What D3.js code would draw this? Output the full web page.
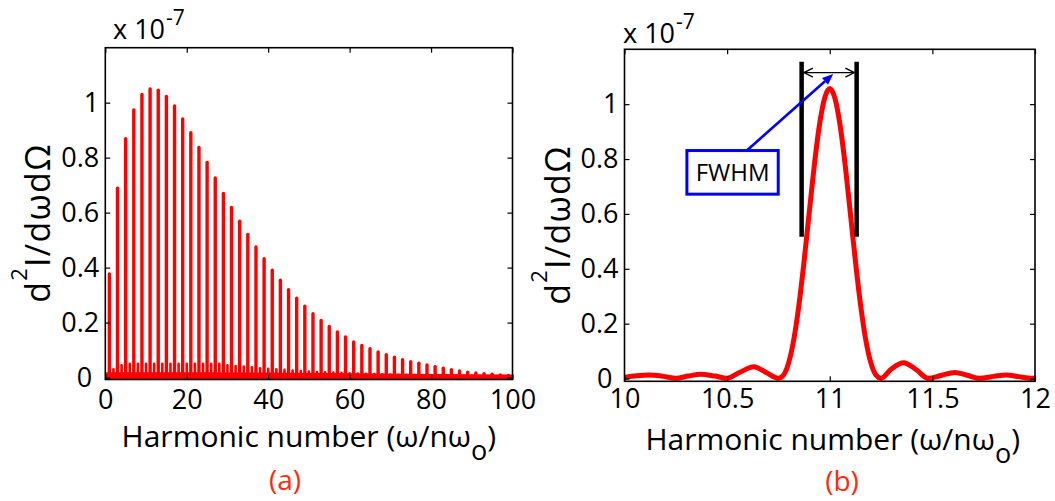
<!DOCTYPE html>
<html>
<head>
<meta charset="utf-8">
<script src="https://cdn.jsdelivr.net/npm/d3@7"></script>
<style>
  html, body { margin: 0; padding: 0; background: #fff; }
  svg { display: block; }
  text { font-family: "Open Sans", "DejaVu Sans", sans-serif; fill: #000; }
</style>
</head>
<body>
<svg id="fig" width="1055" height="501"></svg>
<script>
// ---------- Panel (a): radiated spectrum versus harmonic number (units of 1e-7) ----------
const oddHarmonics = [1,3,5,7,9,11,13,15,17,19,21,23,25,27,29,31,33,35,37,39,41,43,45,47,49,
                      51,53,55,57,59,61,63,65,67,69,71,73,75,77,79,81,83,85,87,89,91,93,95,97,99];
const oddPeaks = [0.377,0.689,0.869,0.974,1.030,1.050,1.045,1.023,0.988,0.941,
                  0.891,0.837,0.783,0.726,0.670,0.619,0.569,0.521,0.475,0.432,
                  0.391,0.354,0.320,0.289,0.260,0.232,0.208,0.186,0.166,0.148,
                  0.130,0.117,0.105,0.093,0.083,0.074,0.065,0.058,0.052,0.046,
                  0.040,0.034,0.029,0.024,0.020,0.017,0.014,0.012,0.010,0.008];
const evenHarmonics = [2,4,6,8,10,12,14,16,18,20,22,24,26,28,30,32,34,36,38,40,42,44,46,48,50,
                       52,54,56,58,60,62,64,66,68,70,72,74,76,78,80,82,84,86,88,90,92,94,96,98];
const evenPeaks = [0.030,0.045,0.050,0.050,0.050,0.050,0.050,0.050,0.050,0.050,
                   0.050,0.050,0.050,0.050,0.045,0.042,0.040,0.037,0.034,0.032,
                   0.030,0.028,0.026,0.024,0.022,0.020,0.019,0.018,0.017,0.016,
                   0.015,0.014,0.013,0.012,0.011,0.010,0.010,0.009,0.009,0.008,
                   0.008,0.007,0.007,0.006,0.006,0.006,0.005,0.005,0.005];
// sidelobe floor running along the bottom of panel (a)
const floorHarmonics = [0,20,40,60,80,100];
const floorLevels = [0.013,0.013,0.012,0.010,0.007,0.005];

// ---------- Panel (b): line shape of the 11th harmonic ----------
const zoomHarmonic = [10.00,10.06,10.12,10.19,10.25,10.31,10.37,10.44,10.50,10.56,10.63,10.69,10.75,
                      10.775,10.80,10.825,10.85,10.875,10.90,10.925,10.95,10.975,11.00,
                      11.025,11.05,11.075,11.10,11.125,11.15,11.175,11.20,11.225,11.25,
                      11.30,11.36,11.42,11.48,11.545,11.61,11.67,11.73,11.80,11.86,11.92,11.98,12.00];
const zoomIntensity = [0.004,0.010,0.013,0.008,0.001,0.009,0.016,0.009,0.001,0.022,0.043,0.022,0.001,
                       0.013,0.058,0.143,0.269,0.428,0.605,0.779,0.925,1.022,1.057,
                       1.022,0.925,0.779,0.605,0.428,0.269,0.143,0.058,0.013,0.001,
                       0.035,0.058,0.033,0.001,0.012,0.022,0.012,0.001,0.008,0.013,0.007,0.001,0.002];

// ---------- Axes ticks ----------
const ticksA = [0,20,40,60,80,100];
const ticksB = [10,10.5,11,11.5,12];
const tickLabelsB = ["10","10.5","11","11.5","12"];
const ticksY = [0,0.2,0.4,0.6,0.8,1];

// ---------- FWHM annotation (data units of panel b) ----------
const fwhmEdges = [10.863, 11.131];
const fwhmMarkerSpan = [0.517, 1.155];
const fwhmArrowLevel = 1.115;
const fwhmArrowEnds = [10.874, 11.120];
const calloutBoxX = [10.304, 10.749];
const calloutBoxY = [0.672, 0.831];
const calloutFrom = [10.596, 0.831];
const calloutTo = [11.017, 1.110];

const RED = "#ff0000";
const LABEL_RED = "#ff2a0a";

const svg = d3.select("#fig");

const boxA = {left: 105.3, right: 512.5, top: 47.7, bottom: 379.5};
const boxB = {left: 624.5, right: 1035, top: 49.3, bottom: 381.3};

const xA = d3.scaleLinear().domain([0, 100]).range([boxA.left, boxA.right]);
const yA = d3.scaleLinear().domain([-0.007, 1.2]).range([boxA.bottom, boxA.top]);
const xB = d3.scaleLinear().domain([10, 12]).range([boxB.left, boxB.right]);
const yB = d3.scaleLinear().domain([-0.010, 1.2]).range([boxB.bottom, boxB.top]);

const defs = svg.append("defs");
function clipFor(id, box) {
  defs.append("clipPath").attr("id", id).append("rect")
    .attr("x", box.left).attr("y", box.top)
    .attr("width", box.right - box.left).attr("height", box.bottom - box.top);
}
clipFor("clipA", boxA);
clipFor("clipB", boxB);

// Box frame with inward ticks on all four sides
function drawFrame(box, x, y, xTicks, xLabels, xPad, zeroShift) {
  const tk = 5;
  const g = svg.append("g");
  g.append("g").attr("transform", `translate(0,${box.bottom})`)
    .call(d3.axisBottom(x).tickValues(xTicks).tickSizeInner(-tk).tickSizeOuter(0)
      .tickPadding(xPad).tickFormat((d, i) => xLabels ? xLabels[i] : d));
  g.append("g").attr("transform", `translate(0,${box.top})`)
    .call(d3.axisTop(x).tickValues(xTicks).tickSizeInner(-tk).tickSizeOuter(0).tickFormat(""));
  const gl = g.append("g").attr("transform", `translate(${box.left},0)`)
    .call(d3.axisLeft(y).tickValues(ticksY).tickSizeInner(-tk).tickSizeOuter(0).tickPadding(6)
      .tickFormat(d => d === 0 ? "0" : d3.format("~g")(d)));
  g.append("g").attr("transform", `translate(${box.right},0)`)
    .call(d3.axisRight(y).tickValues(ticksY).tickSizeInner(-tk).tickSizeOuter(0).tickFormat(""));
  g.selectAll(".domain").remove();
  g.selectAll(".tick line").attr("stroke", "#000").attr("stroke-width", 1.2);
  g.selectAll("text").attr("font-family", null).attr("font-size", 27).attr("fill", "#000");
  gl.selectAll(".tick").filter(d => d === 0).select("text").attr("x", -6 - zeroShift);
  g.append("rect").attr("x", box.left).attr("y", box.top)
    .attr("width", box.right - box.left).attr("height", box.bottom - box.top)
    .attr("fill", "none").attr("stroke", "#000").attr("stroke-width", 1.6);
}

// ---------- Panel (a) data ----------
const plotA = svg.append("g").attr("clip-path", "url(#clipA)");
const floorData = floorHarmonics.map((h, i) => ({h, v: floorLevels[i]}));
plotA.append("path")
  .datum(floorData)
  .attr("d", d3.area().x(d => xA(d.h)).y0(yA(0)).y1(d => yA(d.v)))
  .attr("fill", RED).attr("stroke", RED).attr("stroke-width", 3.4);

plotA.selectAll("line.even")
  .data(evenHarmonics.map((h, i) => ({h, v: evenPeaks[i]})))
  .join("line").attr("class", "even")
  .attr("x1", d => xA(d.h)).attr("x2", d => xA(d.h))
  .attr("y1", yA(0)).attr("y2", d => yA(d.v))
  .attr("stroke", RED).attr("stroke-width", 2.6).attr("stroke-linecap", "round");

plotA.selectAll("line.odd")
  .data(oddHarmonics.map((h, i) => ({h, v: oddPeaks[i]})))
  .join("line").attr("class", "odd")
  .attr("x1", d => xA(d.h)).attr("x2", d => xA(d.h))
  .attr("y1", yA(0)).attr("y2", d => yA(d.v))
  .attr("stroke", RED).attr("stroke-width", 3.4).attr("stroke-linecap", "round");

drawFrame(boxA, xA, yA, ticksA, null, 10, 7);

// ---------- Panel (b) data ----------
const plotB = svg.append("g").attr("clip-path", "url(#clipB)");
plotB.append("path")
  .datum(zoomHarmonic.map((h, i) => ({h, v: zoomIntensity[i]})))
  .attr("d", d3.line().x(d => xB(d.h)).y(d => yB(d.v)).curve(d3.curveMonotoneX))
  .attr("fill", "none").attr("stroke", RED).attr("stroke-width", 5)
  .attr("stroke-linejoin", "round");

// FWHM markers
plotB.selectAll("line.fwhm").data(fwhmEdges).join("line").attr("class", "fwhm")
  .attr("x1", d => xB(d)).attr("x2", d => xB(d))
  .attr("y1", yB(fwhmMarkerSpan[0])).attr("y2", yB(fwhmMarkerSpan[1]))
  .attr("stroke", "#000").attr("stroke-width", 4.5);

// double-headed width arrow
{
  const ya = yB(fwhmArrowLevel);
  const xl = xB(fwhmArrowEnds[0]), xr = xB(fwhmArrowEnds[1]);
  const g = plotB.append("g").attr("stroke", "#000").attr("stroke-width", 1.3).attr("fill", "none");
  g.append("line").attr("x1", xl).attr("x2", xr).attr("y1", ya).attr("y2", ya);
  g.append("path").attr("d", `M${xl + 9},${ya - 4.5}L${xl},${ya}L${xl + 9},${ya + 4.5}`);
  g.append("path").attr("d", `M${xr - 9},${ya - 4.5}L${xr},${ya}L${xr - 9},${ya + 4.5}`);
}

drawFrame(boxB, xB, yB, ticksB, tickLabelsB, 8, 6);

// callout box and arrow
{
  const x0 = xB(calloutFrom[0]), y0 = yB(calloutFrom[1]);
  const x1 = xB(calloutTo[0]), y1 = yB(calloutTo[1]);
  const ang = Math.atan2(y1 - y0, x1 - x0);
  const hl = 11, hw = 4.5;
  const bx = x1 - hl * Math.cos(ang), by = y1 - hl * Math.sin(ang);
  svg.append("line").attr("x1", x0).attr("y1", y0).attr("x2", bx).attr("y2", by)
    .attr("stroke", "#0000ff").attr("stroke-width", 2.6);
  svg.append("path")
    .attr("d", `M${x1},${y1}L${bx + hw * Math.sin(ang)},${by - hw * Math.cos(ang)}L${bx - hw * Math.sin(ang)},${by + hw * Math.cos(ang)}Z`)
    .attr("fill", "#0000ff");
  const rx = xB(calloutBoxX[0]), rw = xB(calloutBoxX[1]) - rx;
  const ry = yB(calloutBoxY[1]), rh = yB(calloutBoxY[0]) - ry;
  svg.append("rect").attr("x", rx).attr("y", ry).attr("width", rw).attr("height", rh)
    .attr("fill", "#fff").attr("stroke", "#0000ff").attr("stroke-width", 3);
  svg.append("text").attr("x", rx + rw / 2).attr("y", ry + rh / 2).attr("dy", "0.36em")
    .attr("text-anchor", "middle").attr("font-size", 24).text("FWHM");
}

// ---------- Labels ----------
function exponentLabel(x, y) {
  const t = svg.append("text").attr("x", x).attr("y", y).attr("font-size", 27);
  t.append("tspan").text("x 10");
  t.append("tspan").attr("font-size", 21).attr("dy", -14).attr("dx", 1).text("-7");
}
exponentLabel(113, 39);
exponentLabel(623, 42.5);

function yLabel(x, y) {
  const t = svg.append("text").attr("transform", `translate(${x},${y}) rotate(-90)`)
    .attr("text-anchor", "middle").attr("font-size", 34).attr("letter-spacing", 1.2);
  t.append("tspan").text("d");
  t.append("tspan").attr("font-size", 22).attr("dy", -23).text("2");
  t.append("tspan").attr("dy", 23).text("I/dωdΩ");
}
yLabel(50, 223);
yLabel(570, 225);

function xLabel(cx, y) {
  const t = svg.append("text").attr("x", cx).attr("y", y).attr("text-anchor", "middle").attr("font-size", 30);
  t.append("tspan").text("Harmonic number (ω/nω");
  t.append("tspan").attr("font-size", 27).attr("dy", 13).text("o");
  t.append("tspan").attr("dy", -13).text(")");
}
xLabel((boxA.left + boxA.right) / 2, 446.5);
xLabel((boxB.left + boxB.right) / 2 + 3, 449.5);

svg.append("text").attr("x", 285).attr("y", 490).attr("text-anchor", "middle")
  .attr("font-size", 28).style("fill", LABEL_RED).text("(a)");
svg.append("text").attr("x", 842).attr("y", 491).attr("text-anchor", "middle")
  .attr("font-size", 28).style("fill", LABEL_RED).text("(b)");
</script>
</body>
</html>
